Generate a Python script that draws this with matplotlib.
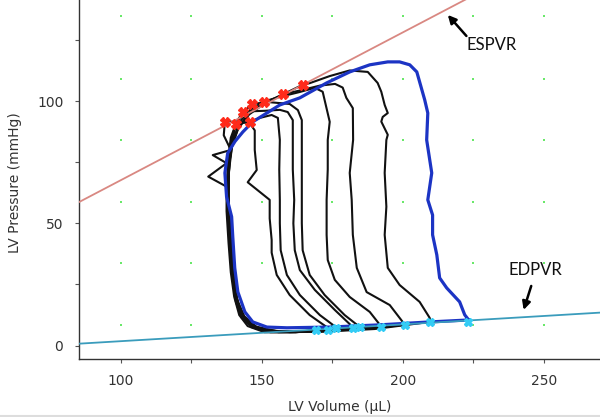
import matplotlib
matplotlib.use("Agg")
import matplotlib.pyplot as plt
from matplotlib.lines import Line2D

# ---------------- data ----------------
x_ticks = [100, 150, 200, 250]
y_ticks = [0, 50, 100]
x_minor = [125, 175, 225]
y_minor = [25, 75, 125]

grid_x = [100, 125, 150, 175, 200, 225, 250]
grid_y = [8.3, 33.7, 58.6, 84.0, 109.0, 134.8]

espvr_x = [85, 270]
espvr_y = [58.6, 170.3]
edpvr_x = [85, 270]
edpvr_y = [0.8, 13.5]

blue_v = [223.4, 222.0, 220.2, 215.6, 213.1, 212.1, 210.6, 210.6, 208.9, 210.3, 208.5, 208.9, 207.8,
          205.0, 202.5, 198.9, 194.7, 188.3, 181.2, 173.0, 163.5, 156.4, 151.8, 146.8, 143.3, 140.5,
          137.9, 136.9, 137.5, 139.3, 139.7, 140.4, 141.5, 144.0, 146.8, 151.8, 158.9, 174.1, 191.8,
          209.6, 223.4]
blue_p = [10.5, 12.6, 17.9, 23.6, 27.7, 37.1, 45.3, 53.4, 59.6, 70.6, 84.1, 95.1, 100.5,
          111.9, 114.8, 116.0, 116.0, 114.8, 111.9, 107.4, 101.3, 98.4, 95.1, 91.5, 87.4, 83.5,
          78.7, 70.6, 60.9, 52.7, 44.6, 31.8, 22.0, 13.8, 9.7, 7.6, 7.3, 7.6, 8.5,
          9.7, 10.5]

loop_g_v = [209.6, 209.6, 206.0, 198.9, 194.7, 193.6, 194.2, 193.6, 194.2, 194.7, 192.4, 192.9, 194.7,
            193.6, 192.4, 191.1, 187.6, 181.2, 174.1, 167.0, 164.6, 158.0, 151.0, 145.5, 141.5, 139.0,
            137.8, 138.0, 138.8, 139.6, 141.0, 143.5, 147.5, 154.0, 170.0, 190.0, 209.6]
loop_g_p = [9.7, 11.3, 17.9, 24.8, 31.8, 45.3, 56.8, 70.6, 84.1, 86.2, 91.6, 93.5, 95.1,
            98.4, 103.8, 107.4, 111.9, 112.5, 110.2, 107.3, 106.7, 103.0, 99.0, 94.5, 88.5, 80.0,
            68.0, 55.0, 40.0, 28.0, 18.0, 11.5, 7.5, 5.8, 5.6, 6.8, 9.7]

loop_f_v = [200.7, 200.0, 195.4, 187.2, 183.7, 182.3, 181.9, 181.2, 182.4, 182.3, 180.0, 178.7, 176.0,
            170.6, 163.5, 157.6, 151.5, 146.0, 142.0, 139.5, 138.2, 138.3, 139.0, 139.8, 141.2, 143.8,
            148.0, 155.0, 170.0, 186.0, 200.7]
loop_f_p = [8.5, 9.7, 16.6, 21.9, 31.8, 45.3, 59.6, 70.6, 84.1, 97.1, 101.3, 105.5, 107.0,
            106.3, 104.3, 102.8, 99.5, 95.5, 90.0, 82.0, 70.0, 56.0, 42.0, 30.0, 19.0, 12.0,
            7.8, 6.0, 5.8, 6.8, 8.5]

loop_e_v = [192.4, 188.3, 181.2, 175.9, 173.4, 173.0, 173.0, 173.4, 173.4, 174.1, 171.6, 168.8, 163.5,
            156.4, 150.7, 146.0, 142.5, 140.0, 138.5, 138.0, 138.5, 139.3, 140.3, 142.0, 145.0, 150.0,
            160.0, 176.0, 192.4]
loop_e_p = [7.8, 13.8, 19.9, 26.9, 35.0, 45.3, 59.6, 72.0, 84.1, 91.5, 103.8, 105.4, 103.7,
            101.7, 99.8, 96.5, 92.0, 85.0, 75.0, 62.0, 48.0, 35.0, 23.0, 15.0, 9.5, 6.5,
            5.6, 6.3, 7.8]

loop_d_v = [184.8, 179.4, 172.3, 167.0, 164.5, 164.2, 164.2, 164.2, 164.2, 164.2, 162.8, 159.9, 153.0,
            146.7, 143.0, 140.5, 139.0, 138.3, 138.3, 139.0, 139.8, 140.8, 142.5, 145.5, 150.0, 160.0,
            172.0, 184.8]
loop_d_p = [7.6, 12.5, 20.7, 28.9, 39.0, 50.0, 59.6, 72.0, 84.1, 92.2, 96.3, 98.8, 99.5,
            98.9, 95.0, 89.0, 81.0, 70.0, 57.0, 44.0, 32.0, 21.0, 13.5, 9.0, 6.5, 5.5,
            6.2, 7.6]

loop_c_v = [182.3, 175.9, 168.8, 163.5, 161.7, 161.2, 161.5, 161.0, 161.0, 161.0, 159.2, 156.4, 151.0,
            143.4, 140.8, 139.2, 138.3, 138.0, 138.6, 139.4, 140.3, 141.8, 144.0, 148.0, 156.0, 168.0,
            182.3]
loop_c_p = [7.6, 14.6, 22.8, 30.9, 39.0, 50.0, 59.6, 72.0, 84.1, 92.2, 95.5, 96.4, 96.0,
            95.7, 91.0, 84.0, 74.0, 62.0, 49.0, 37.0, 25.0, 16.0, 10.5, 7.0, 5.5, 5.8,
            7.6]

loop_b_v = [176.6, 170.6, 163.5, 158.9, 156.7, 156.4, 156.4, 156.2, 156.4, 155.7, 153.5, 149.3, 145.7,
            140.8, 139.0, 138.0, 137.6, 138.0, 138.8, 139.6, 140.8, 142.8, 146.5, 153.0, 165.0, 176.6]
loop_b_p = [7.3, 12.5, 20.7, 28.9, 39.0, 50.0, 59.6, 72.0, 84.1, 93.1, 94.3, 93.1, 91.5,
            90.6, 85.0, 76.0, 65.0, 52.0, 40.0, 28.0, 18.0, 11.5, 7.5, 5.5, 5.6, 7.3]

loop_a_v = [173.4, 167.0, 159.9, 155.3, 153.5, 153.5, 152.8, 152.8, 145.0, 148.2, 147.5, 147.5, 145.7,
            142.2, 136.9, 136.5, 139.0, 132.6, 137.5, 131.0, 137.5, 137.5, 138.2, 139.0, 140.2, 142.0,
            145.0, 151.0, 162.0, 173.4]
loop_a_p = [7.3, 12.5, 20.7, 28.9, 38.0, 43.2, 52.0, 59.6, 66.8, 71.8, 80.0, 88.0, 91.0,
            91.5, 91.6, 86.0, 80.0, 77.9, 74.6, 69.1, 65.0, 55.0, 42.0, 30.0, 20.0, 12.5,
            8.0, 5.5, 5.4, 7.3]

es_v = [136.9, 140.8, 143.4, 145.7, 146.7, 150.7, 157.6, 164.6]
es_p = [91.6, 90.6, 95.7, 91.6, 98.9, 99.8, 102.8, 106.7]

ed_v = [169.4, 173.5, 176.5, 182.3, 184.8, 192.4, 200.7, 209.6, 223.1]
ed_p = [6.4, 6.4, 7.3, 7.4, 7.6, 7.8, 8.5, 9.7, 9.7]

# ---------------- figure ----------------
fig = plt.figure(figsize=(6.0, 4.17), dpi=100)
ax = fig.add_axes([0.131, 0.140, 0.869, 0.860])
ax.set_xlim(85, 270)
ax.set_ylim(-5.3, 141.3)

gx = [x for x in grid_x for _ in grid_y]
gy = [y for _ in grid_x for y in grid_y]
ax.scatter(gx, gy, s=3, marker='s', color='#6ae86a', linewidths=0, zorder=1)

black_loops = [(loop_g_v, loop_g_p), (loop_f_v, loop_f_p), (loop_e_v, loop_e_p),
               (loop_d_v, loop_d_p), (loop_c_v, loop_c_p), (loop_b_v, loop_b_p),
               (loop_a_v, loop_a_p)]
for v, p in black_loops:
    ax.plot(v, p, color='#111111', lw=1.5, zorder=3, solid_joinstyle='round')
ax.plot(blue_v, blue_p, color='#1c34c4', lw=2.3, zorder=4, solid_joinstyle='round')

ax.plot(espvr_x, espvr_y, color='#d98882', lw=1.3, zorder=5)
ax.plot(edpvr_x, edpvr_y, color='#3a9cbc', lw=1.3, zorder=5)

ax.plot(es_v, es_p, ls='none', marker='X', ms=7, color='#ff2a1a', mec='#ff2a1a', zorder=6)
ax.plot(ed_v, ed_p, ls='none', marker='X', ms=6, color='#33ccf5', mec='#33ccf5', zorder=6)

# annotations
ax.annotate('', xy=(216.0, 135.2), xytext=(222.6, 126.6),
            arrowprops=dict(arrowstyle='-|>', lw=1.8, color='black', mutation_scale=12,
                            shrinkA=0, shrinkB=0), zorder=7)
ax.text(231.6, 122.9, 'ESPVR', fontsize=12, family='Lato', ha='center', va='center', color='#111111')
ax.annotate('', xy=(242.9, 14.6), xytext=(245.6, 24.4),
            arrowprops=dict(arrowstyle='-|>', lw=1.8, color='black', mutation_scale=12,
                            shrinkA=0, shrinkB=0), zorder=7)
ax.text(247.2, 31.0, 'EDPVR', fontsize=12, family='Lato', ha='center', va='center', color='#111111')

# axes styling
for s in ['top', 'right']:
    ax.spines[s].set_visible(False)
for s in ['left', 'bottom']:
    ax.spines[s].set_color('#333333')
    ax.spines[s].set_linewidth(1.0)
ax.set_xticks(x_ticks)
ax.set_yticks(y_ticks)
ax.set_xticks(x_minor, minor=True)
ax.set_yticks(y_minor, minor=True)
ax.tick_params(which='both', direction='out', length=3, width=0.8, colors='#555555',
               labelcolor='#333333', labelsize=10, pad=8)
ax.set_xlabel('LV Volume (μL)', fontsize=10, color='#333333')
ax.set_ylabel('LV Pressure (mmHg)', fontsize=10, color='#333333')
ax.xaxis.set_label_coords(0.5, -0.115)
ax.yaxis.set_label_coords(-0.108, 0.49)

fig.add_artist(Line2D([0, 1], [0.003, 0.003], color='#dddddd', lw=1.5, transform=fig.transFigure))

fig.savefig('out.png', dpi=100)
